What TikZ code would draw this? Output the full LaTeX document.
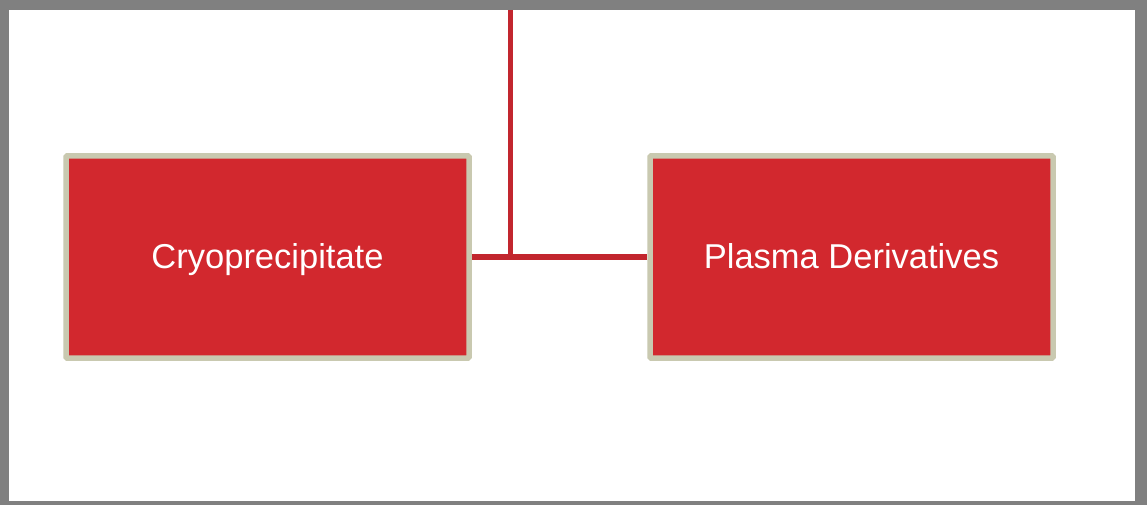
\documentclass[tikz,border=0pt]{standalone}
\usepackage{fontspec}
\setmainfont{Liberation Sans}
\definecolor{frame}{HTML}{808080}
\definecolor{boxfill}{HTML}{D2282E}
\definecolor{boxedge}{HTML}{C9C9B0}
\definecolor{link}{HTML}{C2262E}
\begin{document}
\begin{tikzpicture}[x=1pt,y=-1pt,
  itembox/.style={draw=boxedge, fill=boxfill, line width=5.5pt,
    minimum width=403pt, minimum height=202pt, rounded corners=1pt,
    text=white, font=\fontsize{34.5}{40}\selectfont, inner sep=0pt,
    text height=27pt, text depth=5pt},
  linkline/.style={draw=link, line width=5.5pt}]
  % page frame
  \fill[frame] (0,0) rectangle (1147,505);
  \fill[white] (9,10) rectangle (1135,501);
  \useasboundingbox (0,0) rectangle (1147,505);
  % boxes
  \node[itembox] (cryo) at (267.5,257) {Cryoprecipitate};
  \node[itembox] (plasma) at (851.5,257) {Plasma Derivatives};
  % connectors
  \coordinate (top) at (510.5,10);
  \draw[linkline] (top) |- (plasma.west);
  \draw[linkline] (cryo.east) -- (cryo.east -| top);
\end{tikzpicture}
\end{document}
